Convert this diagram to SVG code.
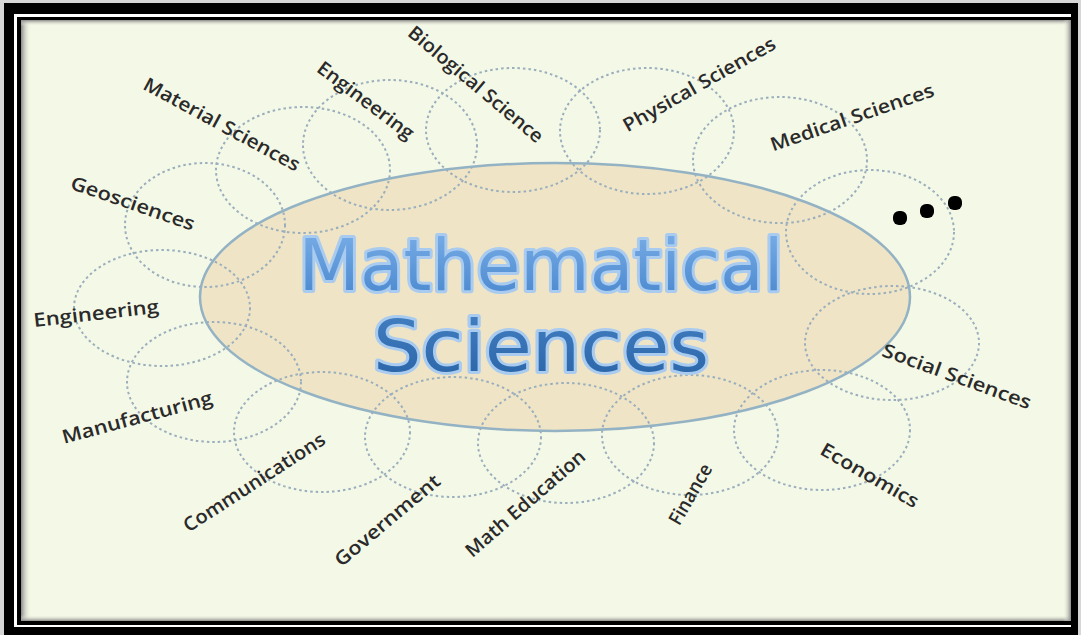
<svg xmlns="http://www.w3.org/2000/svg" width="1081" height="635" viewBox="0 0 1081 635">
<style>
.ring{fill:none;stroke:#9aaebd;stroke-width:2;stroke-dasharray:2.5 3}
.lbl{font-family:"Open Sans","Noto Sans",sans-serif;font-weight:600;font-size:19px;fill:#2a2a2a;text-anchor:middle;dominant-baseline:central}
.title{font-family:"DejaVu Sans","Verdana",sans-serif;font-size:72px;stroke:#a8cbef;stroke-width:6;paint-order:stroke;stroke-linejoin:round}
</style>
<defs>
<linearGradient id="edgeL" x1="0" y1="0" x2="1" y2="0">
<stop offset="0" stop-color="#8a8a8a"/><stop offset="1" stop-color="#f4f8e6" stop-opacity="0"/>
</linearGradient>
<linearGradient id="edgeT" x1="0" y1="0" x2="0" y2="1">
<stop offset="0" stop-color="#8a8a8a"/><stop offset="1" stop-color="#f4f8e6" stop-opacity="0"/>
</linearGradient>
<linearGradient id="edgeB" x1="0" y1="1" x2="0" y2="0">
<stop offset="0" stop-color="#8a8a8a"/><stop offset="1" stop-color="#f4f8e6" stop-opacity="0"/>
</linearGradient>
<linearGradient id="edgeR" x1="1" y1="0" x2="0" y2="0">
<stop offset="0" stop-color="#8a8a8a"/><stop offset="1" stop-color="#f4f8e6" stop-opacity="0"/>
</linearGradient>
<linearGradient id="g1" x1="0" y1="0" x2="0" y2="1">
<stop offset="0" stop-color="#7db1e9"/><stop offset="1" stop-color="#4684cc"/>
</linearGradient>
<linearGradient id="g2" x1="0" y1="0" x2="0" y2="1">
<stop offset="0" stop-color="#4582c4"/><stop offset="1" stop-color="#2762a5"/>
</linearGradient>
</defs>
<g id="frame">
<rect x="0" y="0" width="1081" height="635" fill="#d6d6d6"/>
<rect x="4" y="3" width="1074" height="632" fill="#000"/>
<rect x="14" y="14" width="1057" height="613" fill="#fff"/>
<rect x="17" y="17" width="1056" height="608" fill="#000"/>
<rect x="21" y="20" width="1050" height="601" fill="#f4f8e6"/>
<rect x="21" y="20" width="10" height="601" fill="url(#edgeL)"/>
<rect x="21" y="20" width="1050" height="6" fill="url(#edgeT)"/>
<rect x="21" y="615" width="1050" height="6" fill="url(#edgeB)"/>
<rect x="1063" y="20" width="8" height="601" fill="url(#edgeR)"/>
</g>
<g id="center">
<ellipse cx="555" cy="297" rx="355" ry="134" fill="#efe5c6"/>
</g>
<g id="rings">
<ellipse class="ring" cx="205" cy="225" rx="80" ry="62"/>
<ellipse class="ring" cx="303" cy="170" rx="87" ry="63"/>
<ellipse class="ring" cx="390" cy="145" rx="87" ry="65"/>
<ellipse class="ring" cx="513" cy="130" rx="87" ry="62"/>
<ellipse class="ring" cx="647" cy="131" rx="87" ry="63"/>
<ellipse class="ring" cx="780" cy="160" rx="87" ry="63"/>
<ellipse class="ring" cx="870" cy="232" rx="84" ry="62"/>
<ellipse class="ring" cx="892" cy="343" rx="87" ry="57"/>
<ellipse class="ring" cx="822" cy="430" rx="88" ry="60"/>
<ellipse class="ring" cx="690" cy="435" rx="88" ry="60"/>
<ellipse class="ring" cx="566" cy="443" rx="88" ry="60"/>
<ellipse class="ring" cx="453" cy="437" rx="88" ry="60"/>
<ellipse class="ring" cx="322" cy="432" rx="88" ry="60"/>
<ellipse class="ring" cx="214" cy="382" rx="87" ry="60"/>
<ellipse class="ring" cx="162" cy="308" rx="88" ry="58"/>
</g>
<g id="center-outline">
<ellipse cx="555" cy="297" rx="355" ry="134" fill="none" stroke="#93b2c4" stroke-width="2.5"/>
<text class="title" x="541" y="290" text-anchor="middle" fill="url(#g1)" textLength="485" lengthAdjust="spacingAndGlyphs">Mathematical</text>
<text class="title" x="541" y="371" text-anchor="middle" fill="url(#g2)" textLength="336" lengthAdjust="spacingAndGlyphs">Sciences</text>
</g>
<g id="n-geosciences"><text class="lbl" transform="translate(133,203) rotate(19)" textLength="130" lengthAdjust="spacingAndGlyphs">Geosciences</text></g>
<g id="n-material"><text class="lbl" transform="translate(222,124) rotate(28.5)" textLength="175" lengthAdjust="spacingAndGlyphs">Material Sciences</text></g>
<g id="n-engineering-top"><text class="lbl" transform="translate(366,100) rotate(37)" textLength="116" lengthAdjust="spacingAndGlyphs">Engineering</text></g>
<g id="n-biological"><text class="lbl" transform="translate(476,84) rotate(40)" textLength="170" lengthAdjust="spacingAndGlyphs">Biological Science</text></g>
<g id="n-physical"><text class="lbl" transform="translate(699,84) rotate(-29.5)" textLength="172" lengthAdjust="spacingAndGlyphs">Physical Sciences</text></g>
<g id="n-medical"><text class="lbl" transform="translate(852,117) rotate(-19)" textLength="172" lengthAdjust="spacingAndGlyphs">Medical Sciences</text></g>
<g id="n-more">
<rect x="893" y="211" width="14" height="14" rx="6" fill="#000"/>
<rect x="920" y="204" width="14" height="14" rx="6" fill="#000"/>
<rect x="948" y="196" width="14" height="14" rx="6" fill="#000"/>
</g>
<g id="n-social"><text class="lbl" transform="translate(957,376) rotate(20)" textLength="157" lengthAdjust="spacingAndGlyphs">Social Sciences</text></g>
<g id="n-economics"><text class="lbl" transform="translate(870,475) rotate(30)" textLength="110" lengthAdjust="spacingAndGlyphs">Economics</text></g>
<g id="n-finance"><text class="lbl" transform="translate(690,494) rotate(-60)" textLength="67" lengthAdjust="spacingAndGlyphs">Finance</text></g>
<g id="n-matheducation"><text class="lbl" transform="translate(525,503) rotate(-41)" textLength="152" lengthAdjust="spacingAndGlyphs">Math Education</text></g>
<g id="n-government"><text class="lbl" transform="translate(387,520) rotate(-40)" textLength="131" lengthAdjust="spacingAndGlyphs">Government</text></g>
<g id="n-communications"><text class="lbl" transform="translate(254,482) rotate(-33)" textLength="165" lengthAdjust="spacingAndGlyphs">Communications</text></g>
<g id="n-manufacturing"><text class="lbl" transform="translate(137,417) rotate(-15)" textLength="155" lengthAdjust="spacingAndGlyphs">Manufacturing</text></g>
<g id="n-engineering-left"><text class="lbl" transform="translate(96,313) rotate(-6.5)" textLength="126" lengthAdjust="spacingAndGlyphs">Engineering</text></g>
<g id="connectors"></g>
</svg>
